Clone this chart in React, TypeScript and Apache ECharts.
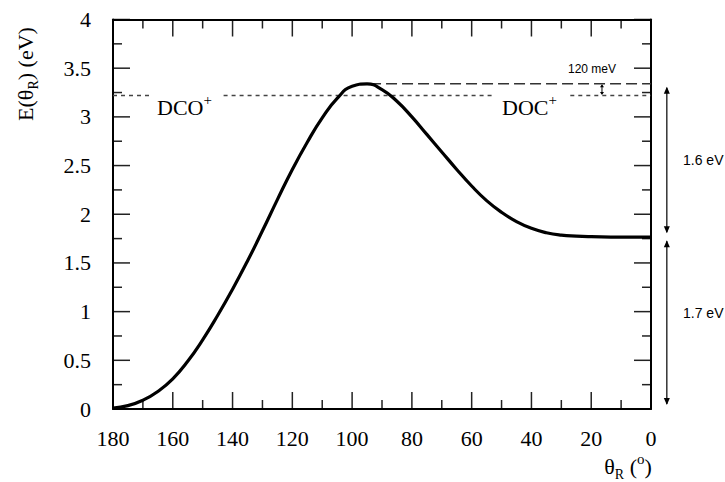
import React, { useEffect, useRef } from 'react';
import * as echarts from 'echarts';

// Curve: E(theta_R) in eV versus theta_R in degrees
const angles = [180, 175, 170, 165, 160, 155, 150, 145, 140, 135, 130, 125, 120, 115, 110, 105, 100, 95, 90, 85, 80, 75, 70, 65, 60, 55, 50, 45, 40, 35, 30, 25, 20, 10, 0];
const energies = [0.01, 0.035, 0.09, 0.18, 0.31, 0.49, 0.71, 0.96, 1.23, 1.52, 1.83, 2.15, 2.46, 2.74, 2.99, 3.19, 3.315, 3.338, 3.28, 3.16, 3.0, 2.82, 2.64, 2.46, 2.29, 2.14, 2.02, 1.925, 1.855, 1.81, 1.785, 1.775, 1.77, 1.765, 1.765];

// Reference levels
const dcoLevel = 3.22;
const docLevel = 3.34;
const baseLevel = 1.765;
const zeroLevel = 0;
const dottedSegments = [[180, 167], [143, 53], [27, 0]];
const dashedSegment = [94, 0];
const gapArrowAngle = 16.4;
const sideArrowAngle = -5.3;

const xTicks = { min: 0, max: 180, interval: 20 };
const yTicks = { min: 0, max: 4, interval: 0.5 };
const xMajorTicks = [0, 20, 40, 60, 80, 100, 120, 140, 160, 180];
const xMinorTicks = [10, 30, 50, 70, 90, 110, 130, 150, 170];
const yMajorTicks = [0, 0.5, 1, 1.5, 2, 2.5, 3, 3.5, 4];
const yMinorTicks = [0.25, 0.75, 1.25, 1.75, 2.25, 2.75, 3.25, 3.75];

const labels = {
  dco: 'DCO',
  doc: 'DOC',
  gap: '120 meV',
  upper: '1.6 eV',
  lower: '1.7 eV',
};

export default function App() {
  const ref = useRef<HTMLDivElement>(null);
  useEffect(() => {
    const chart = echarts.init(ref.current!, null, { renderer: 'svg' });
    const serif = 'Liberation Serif';
    const sans = 'Liberation Sans';

    const makeAxis = (range: { min: number; max: number; interval: number }, extra: any) => ({
      type: 'value',
      min: range.min,
      max: range.max,
      interval: range.interval,
      axisLine: { show: true, onZero: false, lineStyle: { color: '#000', width: 2 } },
      axisTick: { show: false },
      minorTick: { show: false },
      splitLine: { show: false },
      ...extra,
    });

    const seriesDotted = dottedSegments.map((seg) => ({
      type: 'line',
      data: [[seg[0], dcoLevel], [seg[1], dcoLevel]],
      symbol: 'none',
      lineStyle: { color: '#444', width: 1.5, type: [4, 4] },
      z: 1,
    }));

    chart.setOption({
      animation: false,
      grid: { left: 113, right: 74, top: 19.5, bottom: 73 },
      xAxis: [
        makeAxis(xTicks, {
          inverse: true,
          position: 'bottom',
          axisLabel: { show: true, color: '#000', fontFamily: serif, fontSize: 22, margin: 18 },
        }),
        makeAxis(xTicks, { inverse: true, position: 'top', axisLabel: { show: false } }),
      ],
      yAxis: [
        makeAxis(yTicks, {
          position: 'left',
          axisLabel: { show: true, color: '#000', fontFamily: serif, fontSize: 22, margin: 22 },
        }),
        makeAxis(yTicks, { position: 'right', axisLabel: { show: false } }),
      ],
      series: [
        ...seriesDotted,
        {
          type: 'line',
          data: [[dashedSegment[0], docLevel], [dashedSegment[1], docLevel]],
          symbol: 'none',
          lineStyle: { color: '#333', width: 1.5, type: [11, 5] },
          z: 1,
        },
        {
          type: 'line',
          data: angles.map((a, i) => [a, energies[i]]),
          smooth: 0.5,
          symbol: 'none',
          lineStyle: { color: '#000', width: 3.2 },
          z: 3,
        },
      ],
    });

    const px = (x: number, y: number) =>
      chart.convertToPixel({ xAxisIndex: 0, yAxisIndex: 0 }, [x, y]) as number[];

    const tickStroke = { stroke: '#222', lineWidth: 1.5 };
    const [xLeft, yBottom] = px(xTicks.max, yTicks.min);
    const [xRight, yTop] = px(xTicks.min, yTicks.max);
    const tickLines: any[] = [];
    const addX = (vals: number[], len: number) =>
      vals.forEach((v) => {
        const x = px(v, 0)[0];
        tickLines.push({ type: 'line', silent: true, shape: { x1: x, y1: yBottom, x2: x, y2: yBottom - len }, style: tickStroke });
        tickLines.push({ type: 'line', silent: true, shape: { x1: x, y1: yTop, x2: x, y2: yTop + len }, style: tickStroke });
      });
    const addY = (vals: number[], len: number) =>
      vals.forEach((v) => {
        const y = px(0, v)[1];
        tickLines.push({ type: 'line', silent: true, shape: { x1: xLeft, y1: y, x2: xLeft + len, y2: y }, style: tickStroke });
        tickLines.push({ type: 'line', silent: true, shape: { x1: xRight, y1: y, x2: xRight - len, y2: y }, style: tickStroke });
      });
    addX(xMajorTicks, 17);
    addX(xMinorTicks, 9);
    addY(yMajorTicks, 17);
    addY(yMinorTicks, 9);

    const arrow = (x: number, yTopA: number, yBot: number, headLen: number, headHalf: number, lw: number) => [
      { type: 'line', shape: { x1: x, y1: yTopA + 1, x2: x, y2: yBot - 1 }, style: { stroke: '#000', lineWidth: lw } },
      { type: 'polygon', shape: { points: [[x, yTopA], [x - headHalf, yTopA + headLen], [x + headHalf, yTopA + headLen]] }, style: { fill: '#000' } },
      { type: 'polygon', shape: { points: [[x, yBot], [x - headHalf, yBot - headLen], [x + headHalf, yBot - headLen]] }, style: { fill: '#000' } },
    ];

    const [sx, yDoc] = px(sideArrowAngle, docLevel);
    const [, yBase] = px(sideArrowAngle, baseLevel);
    const [, yZero] = px(sideArrowAngle, zeroLevel);
    const [gx, yDco] = px(gapArrowAngle, dcoLevel);

    const mainRich = {
      a: { fontFamily: serif, fontSize: 22, lineHeight: 30, verticalAlign: 'middle', fill: '#000' },
      s: { fontFamily: serif, fontSize: 14, lineHeight: 14, verticalAlign: 'bottom', fill: '#000' },
      p: { fontFamily: serif, fontSize: 15, lineHeight: 15, verticalAlign: 'top', fill: '#000' },
    };

    chart.setOption({
      graphic: [
        ...tickLines,
        ...arrow(sx, yDoc + 3, yBase - 4, 7, 3, 1.2),
        ...arrow(sx, yBase + 3, yZero - 4, 7, 3, 1.2),
        ...arrow(gx, px(gapArrowAngle, docLevel)[1] + 0.5, yDco - 0.5, 3, 2, 1),
        {
          type: 'text',
          x: 25,
          y: 74,
          rotation: Math.PI / 2,
          style: { text: '{a|E(θ}{s|R}{a|) (eV)}', rich: mainRich, align: 'center', verticalAlign: 'middle' },
        },
        {
          type: 'text',
          x: 628,
          y: 466,
          style: { text: '{a|θ}{s|R}{a| (}{p|o}{a|)}', rich: mainRich, align: 'center', verticalAlign: 'middle' },
        },
        {
          type: 'text',
          x: 157,
          y: 107,
          style: { text: `{a|${labels.dco}}{p|+}`, rich: mainRich, align: 'left', verticalAlign: 'middle' },
        },
        {
          type: 'text',
          x: 502,
          y: 107,
          style: { text: `{a|${labels.doc}}{p|+}`, rich: mainRich, align: 'left', verticalAlign: 'middle' },
        },
        {
          type: 'text',
          x: 592,
          y: 69,
          style: { text: labels.gap, fontFamily: sans, fontSize: 12, fill: '#000', align: 'center', verticalAlign: 'middle' },
        },
        {
          type: 'text',
          x: 683,
          y: 160,
          style: { text: labels.upper, fontFamily: sans, fontSize: 14, fill: '#000', align: 'left', verticalAlign: 'middle' },
        },
        {
          type: 'text',
          x: 683,
          y: 313,
          style: { text: labels.lower, fontFamily: sans, fontSize: 14, fill: '#000', align: 'left', verticalAlign: 'middle' },
        },
      ],
    });

    return () => chart.dispose();
  }, []);

  return (
    <div
      ref={ref}
      style={{ position: 'fixed', left: 0, top: 0, width: 725, height: 482, background: '#fff' }}
    />
  );
}
